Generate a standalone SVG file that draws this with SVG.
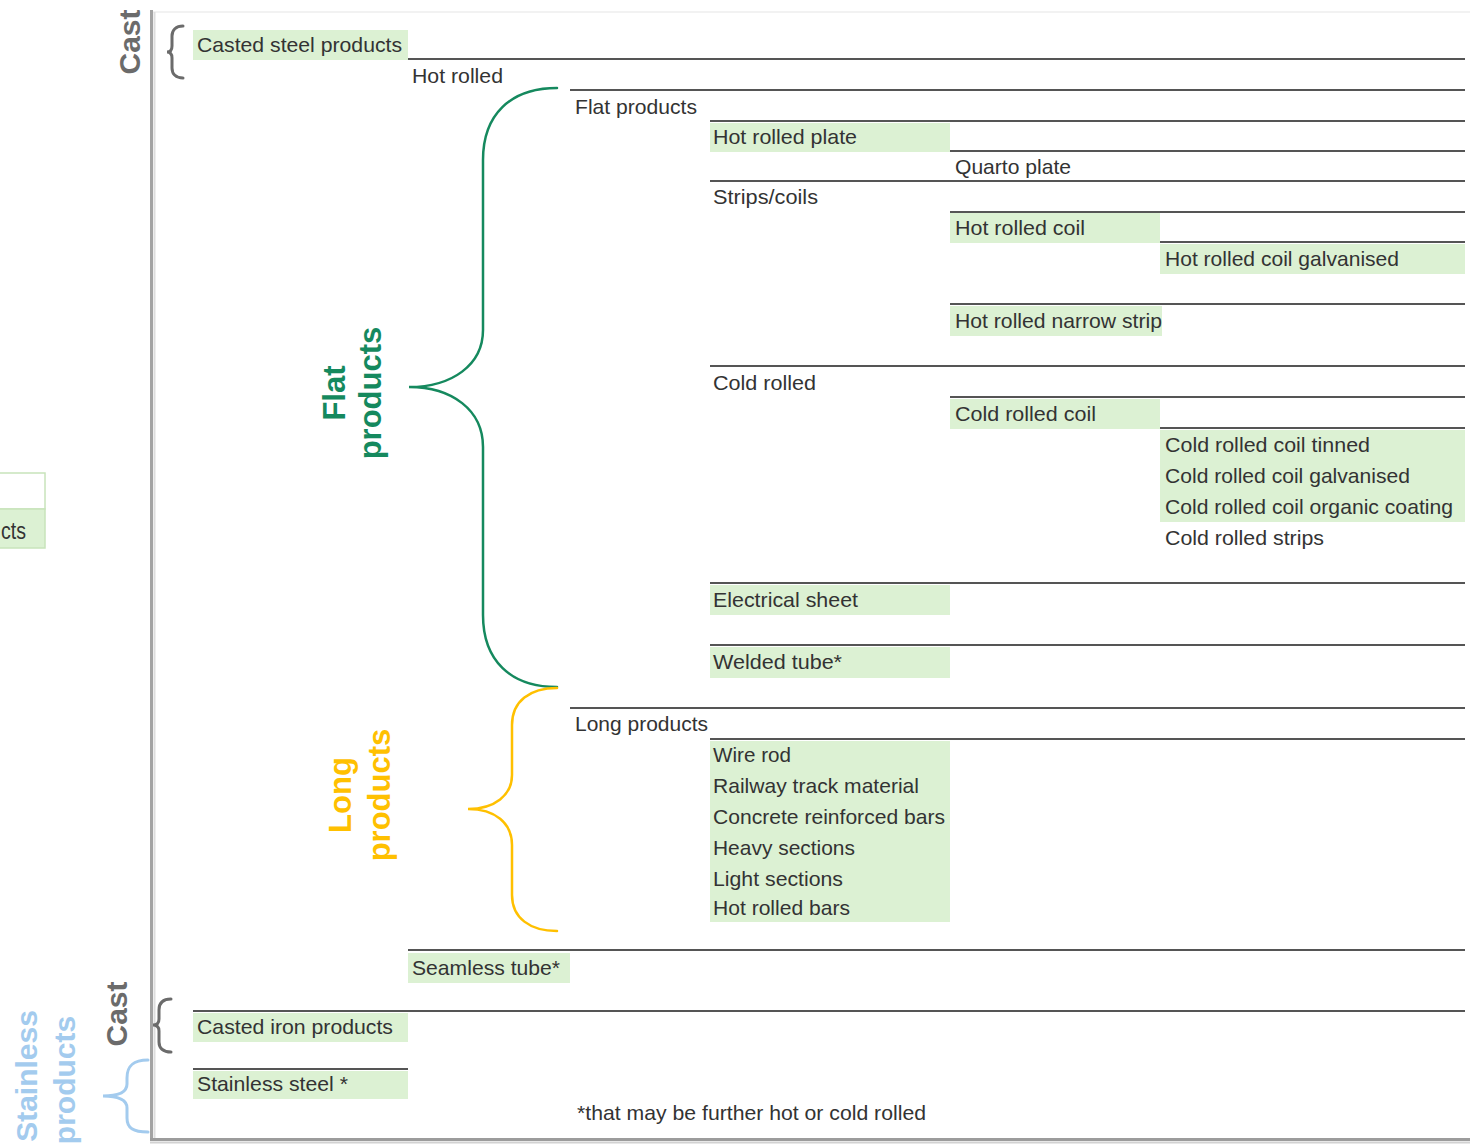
<svg xmlns="http://www.w3.org/2000/svg" width="1470" height="1147" viewBox="0 0 1470 1147">
  <style>
    .t { font-family: "Liberation Sans", Arial, sans-serif; font-size: 21px; fill: #333333; }
    .hl { fill: #dcf1d3; }
    .rule { stroke: #555555; stroke-width: 2; fill: none; }
    .lbl { font-family: "Liberation Sans", Arial, sans-serif; font-weight: bold; font-size: 31px; text-anchor: middle; }
    .cast { fill: #6b6b6b; font-size: 30px; }
    .flat { fill: #15895e; }
    .long { fill: #ffc000; }
    .stain { fill: #a3cbee; font-size: 30px; }
    .brace { fill: none; stroke-linecap: round; }
  </style>

  <rect width="1470" height="1147" fill="#ffffff"/>

  <!-- legend fragment at the far left -->
  <g id="legend-fragment">
    <rect x="-2" y="473" width="47" height="36" fill="#ffffff" stroke="#c8e3bb" stroke-width="1.5"/>
    <rect x="-2" y="509" width="47" height="39" fill="#dcf1d3" stroke="#c8e3bb" stroke-width="1.5"/>
    <text x="1" y="539" font-family="Liberation Sans, Arial, sans-serif" font-size="23" fill="#333333" textLength="25" lengthAdjust="spacingAndGlyphs">cts</text>
  </g>

  <!-- panel frame with shadowed edges -->
  <g id="panel">
    <line x1="153" y1="12" x2="1470" y2="12" stroke="#eeeeee" stroke-width="1.5"/>
    <line x1="151.5" y1="10" x2="151.5" y2="1141" stroke="#a3a3a3" stroke-width="3"/>
    <line x1="154.5" y1="12" x2="154.5" y2="1138" stroke="#dddddd" stroke-width="2"/>
    <line x1="150" y1="1139.5" x2="1470" y2="1139.5" stroke="#9c9c9c" stroke-width="3"/>
    <line x1="150" y1="1142.5" x2="1470" y2="1142.5" stroke="#d2d2d2" stroke-width="2"/>
  </g>

  <!-- highlighted cells -->
  <g id="highlights">
    <rect class="hl" x="193" y="30" width="215" height="30"/>
    <rect class="hl" x="710" y="123" width="240" height="29"/>
    <rect class="hl" x="950" y="213" width="210" height="30"/>
    <rect class="hl" x="1160" y="244" width="305" height="30"/>
    <rect class="hl" x="950" y="306" width="212" height="30"/>
    <rect class="hl" x="950" y="399" width="210" height="30"/>
    <rect class="hl" x="1160" y="430" width="305" height="92"/>
    <rect class="hl" x="710" y="585" width="240" height="30"/>
    <rect class="hl" x="710" y="647" width="240" height="31"/>
    <rect class="hl" x="710" y="741" width="240" height="181"/>
    <rect class="hl" x="408" y="953" width="162" height="30"/>
    <rect class="hl" x="193" y="1013" width="215" height="29"/>
    <rect class="hl" x="193" y="1071" width="215" height="28"/>
  </g>

  <!-- hierarchy rules and group braces -->
  <g id="connectors">
    <line class="rule" x1="408" y1="59" x2="1465" y2="59"/>
    <line class="rule" x1="570" y1="90" x2="1465" y2="90"/>
    <line class="rule" x1="710" y1="121" x2="1465" y2="121"/>
    <line class="rule" x1="950" y1="151" x2="1465" y2="151"/>
    <line class="rule" x1="710" y1="181" x2="1465" y2="181"/>
    <line class="rule" x1="950" y1="212" x2="1465" y2="212"/>
    <line class="rule" x1="1160" y1="242" x2="1465" y2="242"/>
    <line class="rule" x1="950" y1="304" x2="1465" y2="304"/>
    <line class="rule" x1="710" y1="366" x2="1465" y2="366"/>
    <line class="rule" x1="950" y1="397" x2="1465" y2="397"/>
    <line class="rule" x1="1160" y1="428" x2="1465" y2="428"/>
    <line class="rule" x1="710" y1="583" x2="1465" y2="583"/>
    <line class="rule" x1="710" y1="645" x2="1465" y2="645"/>
    <line class="rule" x1="570" y1="708" x2="1465" y2="708"/>
    <line class="rule" x1="710" y1="739" x2="1465" y2="739"/>
    <line class="rule" x1="408" y1="950" x2="1465" y2="950"/>
    <line class="rule" x1="193" y1="1011" x2="1465" y2="1011"/>
    <line class="rule" x1="193" y1="1069" x2="408" y2="1069"/>

    <path class="brace" stroke="#15895e" stroke-width="2.5" d="M557,88 C510,88 483,115 483,160 L483,330 C483,365 452,387 409,387 C452,387 483,410 483,447 L483,615 C483,660 510,687 557,687"/>
    <path class="brace" stroke="#ffc000" stroke-width="2.5" d="M557,688 C530,688 512,701 512,725 L512,775 C512,795 495,809 468,809 C495,809 512,823 512,845 L512,895 C512,918 530,931 557,931"/>
    <path class="brace" stroke="#6b6b6b" stroke-width="3" d="M183,26 C176,26 172,30 172,36 L172,46 C172,50 170,52 167,52 C170,52 172,54 172,58 L172,68 C172,74 176,78 183,78"/>
    <path class="brace" stroke="#6b6b6b" stroke-width="3" d="M171,999 C163,999 159,1003 159,1010 L159,1019 C159,1023 157,1025 153,1025 C157,1025 159,1027 159,1031 L159,1042 C159,1048 163,1052 171,1052"/>
    <path class="brace" stroke="#a3cbee" stroke-width="3" d="M148,1060 C133,1060 127,1066 127,1078 L127,1084 C127,1092 118,1096 103,1096 C118,1096 127,1100 127,1108 L127,1118 C127,1128 133,1132 148,1132"/>
  </g>

  <!-- group labels -->
  <g id="label-cast-steel"><text class="lbl cast" transform="translate(140,42) rotate(-90)">Cast</text></g>
  <g id="label-cast-iron"><text class="lbl cast" transform="translate(127,1014) rotate(-90)">Cast</text></g>
  <g id="label-flat">
    <text class="lbl flat" transform="translate(345,393) rotate(-90)">Flat</text>
    <text class="lbl flat" transform="translate(381,393) rotate(-90)">products</text>
  </g>
  <g id="label-long">
    <text class="lbl long" transform="translate(351,795) rotate(-90)">Long</text>
    <text class="lbl long" transform="translate(390,795) rotate(-90)">products</text>
  </g>
  <g id="label-stainless">
    <text class="lbl stain" transform="translate(37,1076) rotate(-90)">Stainless</text>
    <text class="lbl stain" transform="translate(75,1080) rotate(-90)">products</text>
  </g>

  <!-- product tree entries -->
  <g id="casted-steel-products"><text class="t" x="197" y="52" textLength="205" lengthAdjust="spacingAndGlyphs">Casted steel products</text></g>
  <g id="hot-rolled"><text class="t" x="412" y="83" textLength="91" lengthAdjust="spacingAndGlyphs">Hot rolled</text></g>
  <g id="flat-products"><text class="t" x="575" y="114" textLength="122" lengthAdjust="spacingAndGlyphs">Flat products</text></g>
  <g id="hot-rolled-plate"><text class="t" x="713" y="144" textLength="144" lengthAdjust="spacingAndGlyphs">Hot rolled plate</text></g>
  <g id="quarto-plate"><text class="t" x="955" y="174" textLength="116" lengthAdjust="spacingAndGlyphs">Quarto plate</text></g>
  <g id="strips-coils"><text class="t" x="713" y="204" textLength="105" lengthAdjust="spacingAndGlyphs">Strips/coils</text></g>
  <g id="hot-rolled-coil"><text class="t" x="955" y="235" textLength="130" lengthAdjust="spacingAndGlyphs">Hot rolled coil</text></g>
  <g id="hot-rolled-coil-galvanised"><text class="t" x="1165" y="266" textLength="234" lengthAdjust="spacingAndGlyphs">Hot rolled coil galvanised</text></g>
  <g id="hot-rolled-narrow-strip"><text class="t" x="955" y="328" textLength="207" lengthAdjust="spacingAndGlyphs">Hot rolled narrow strip</text></g>
  <g id="cold-rolled"><text class="t" x="713" y="390" textLength="103" lengthAdjust="spacingAndGlyphs">Cold rolled</text></g>
  <g id="cold-rolled-coil"><text class="t" x="955" y="421" textLength="141" lengthAdjust="spacingAndGlyphs">Cold rolled coil</text></g>
  <g id="cold-rolled-coil-variants">
    <text class="t" x="1165" y="452" textLength="205" lengthAdjust="spacingAndGlyphs">Cold rolled coil tinned</text>
    <text class="t" x="1165" y="483" textLength="245" lengthAdjust="spacingAndGlyphs">Cold rolled coil galvanised</text>
    <text class="t" x="1165" y="514" textLength="288" lengthAdjust="spacingAndGlyphs">Cold rolled coil organic coating</text>
  </g>
  <g id="cold-rolled-strips"><text class="t" x="1165" y="545" textLength="159" lengthAdjust="spacingAndGlyphs">Cold rolled strips</text></g>
  <g id="electrical-sheet"><text class="t" x="713" y="607" textLength="145" lengthAdjust="spacingAndGlyphs">Electrical sheet</text></g>
  <g id="welded-tube"><text class="t" x="713" y="669" textLength="129" lengthAdjust="spacingAndGlyphs">Welded tube*</text></g>
  <g id="long-products"><text class="t" x="575" y="731" textLength="133" lengthAdjust="spacingAndGlyphs">Long products</text></g>
  <g id="long-product-types">
    <text class="t" x="713" y="762" textLength="78" lengthAdjust="spacingAndGlyphs">Wire rod</text>
    <text class="t" x="713" y="793" textLength="206" lengthAdjust="spacingAndGlyphs">Railway track material</text>
    <text class="t" x="713" y="824" textLength="232" lengthAdjust="spacingAndGlyphs">Concrete reinforced bars</text>
    <text class="t" x="713" y="855" textLength="142" lengthAdjust="spacingAndGlyphs">Heavy sections</text>
    <text class="t" x="713" y="886" textLength="130" lengthAdjust="spacingAndGlyphs">Light sections</text>
    <text class="t" x="713" y="915" textLength="137" lengthAdjust="spacingAndGlyphs">Hot rolled bars</text>
  </g>
  <g id="seamless-tube"><text class="t" x="412" y="975" textLength="148" lengthAdjust="spacingAndGlyphs">Seamless tube*</text></g>
  <g id="casted-iron-products"><text class="t" x="197" y="1034" textLength="196" lengthAdjust="spacingAndGlyphs">Casted iron products</text></g>
  <g id="stainless-steel"><text class="t" x="197" y="1091" textLength="151" lengthAdjust="spacingAndGlyphs">Stainless steel *</text></g>
  <g id="footnote"><text class="t" x="577" y="1120" textLength="349" lengthAdjust="spacingAndGlyphs">*that may be further hot or cold rolled</text></g>
</svg>
